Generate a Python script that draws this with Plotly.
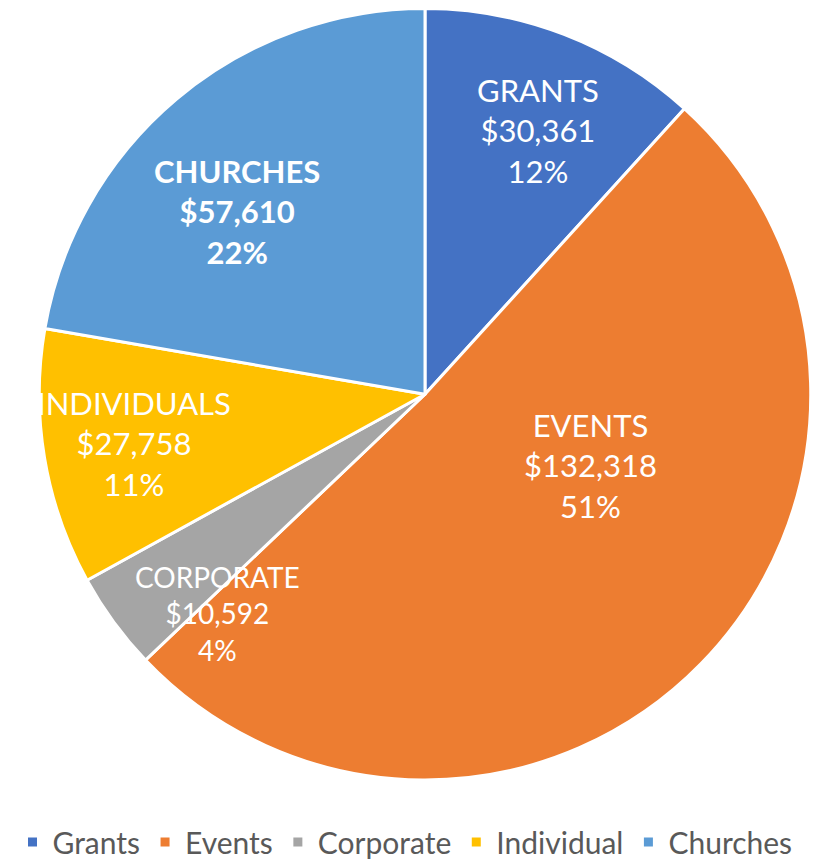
import plotly.graph_objects as go

categories = ["Grants", "Events", "Corporate", "Individual", "Churches"]
slice_names = ["GRANTS", "EVENTS", "CORPORATE", "INDIVIDUALS", "CHURCHES"]
amounts = [30361, 132318, 10592, 27758, 57610]
colors = ["#4472C4", "#ED7D31", "#A5A5A5", "#FFC000", "#5B9BD5"]
bold_flags = [False, False, False, False, True]

# label placement (page pixels, visual centre of each data-label block) and sizes
label_pos = [(538, 131), (590, 468), (217, 617), (134, 446), (237, 213)]
label_size = [31, 31, 28, 31, 31]

W, H = 828, 860
OFF = 8  # page offset of the figure inside the html body
R = 388
cx, cy = 425 - OFF, 396.5 - OFF

fig = go.Figure(go.Pie(
    labels=categories,
    values=amounts,
    textinfo="none",
    marker=dict(colors=colors, line=dict(color="white", width=3)),
    sort=False,
    direction="clockwise",
    rotation=0,
    hoverinfo="skip",
    domain=dict(x=[(cx - R) / W, (cx + R) / W],
                y=[max(0, (H - cy - R) / H), min(1, (H - cy + R) / H)]),
))

total = sum(amounts)
for name, val, bold, (px, py), fs in zip(slice_names, amounts, bold_flags, label_pos, label_size):
    lines = [name, f"${val:,}", f"{round(val / total * 100)}%"]
    if bold:
        lines = [f"<b>{s}</b>" for s in lines]
    fig.add_annotation(
        text="<br>".join(lines),
        x=(px - OFF) / W, y=1 - (py - OFF) / H,
        xref="paper", yref="paper", xanchor="center", yanchor="middle",
        showarrow=False, align="center",
        font=dict(family="Lato", size=fs, color="white"),
    )

fig.update_layout(
    width=W, height=H,
    margin=dict(l=0, r=0, t=0, b=0),
    paper_bgcolor="white",
    plot_bgcolor="white",
    showlegend=True,
    legend=dict(
        orientation="h", x=(405 - OFF) / W, xanchor="center",
        y=1 - (847 - OFF) / H, yanchor="middle",
        font=dict(family="Lato", size=30, color="#595959"),
        itemwidth=30,
    ),
)

fig.write_html("out.html")
